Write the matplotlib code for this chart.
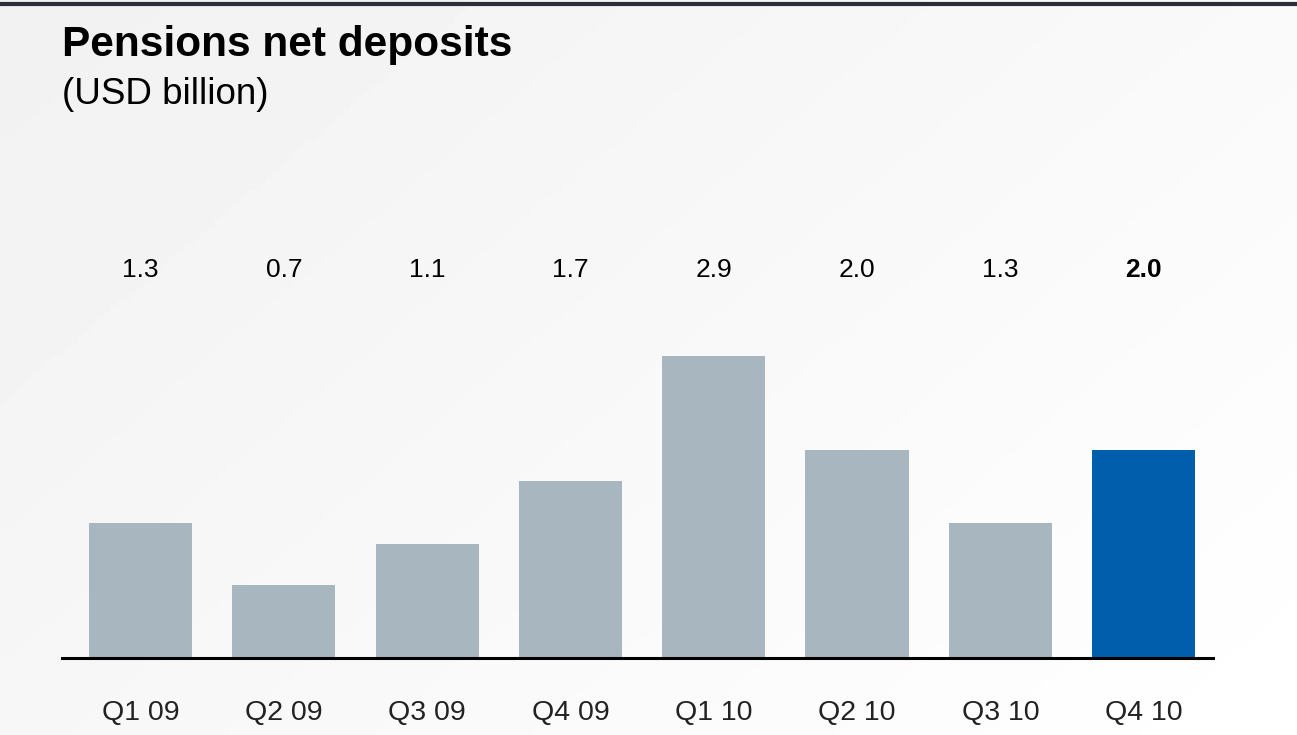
import matplotlib
matplotlib.use('Agg')
import matplotlib.pyplot as plt
import matplotlib.transforms as mtransforms
import numpy as np
from matplotlib import rcParams

rcParams.update({'font.family': ['Liberation Sans', 'DejaVu Sans']})

quarters = ['Q1 09', 'Q2 09', 'Q3 09', 'Q4 09', 'Q1 10', 'Q2 10', 'Q3 10', 'Q4 10']
deposits = [1.3, 0.7, 1.1, 1.7, 2.9, 2.0, 1.3, 2.0]
labels = ['1.3', '0.7', '1.1', '1.7', '2.9', '2.0', '1.3', '2.0']

grey = '#a8b6bf'
blue = '#005eac'

W, H = 1297, 735
fig = plt.figure(figsize=(W / 100, H / 100), dpi=100)

# soft diagonal background, light grey at top-left to white at bottom-right
bg = fig.add_axes([0, 0, 1, 1], zorder=-10)
gx, gy = np.meshgrid(np.linspace(0, 1, 200), np.linspace(0, 1, 120))
shade = 0.945 + 0.055 * np.clip(0.6 * gx + 0.4 * gy, 0, 1)
bg.imshow(shade, cmap='gray', vmin=0, vmax=1, aspect='auto', extent=[0, 1, 0, 1], origin='upper')
bg.set_axis_off()

# dark rule at the very top
fig.add_artist(plt.Line2D([0, 1], [1 - 3.5 / H, 1 - 3.5 / H], color='#2b2e38', lw=3, transform=fig.transFigure))

fig.text(62 / W, 1 - 56 / H, 'Pensions net deposits', fontsize=30.5, fontweight='bold', va='baseline', ha='left')
fig.text(62 / W, 1 - 104 / H, '(USD billion)', fontsize=26.5, va='baseline', ha='left')

ax = fig.add_axes([62 / W, 77 / H, (1213 - 62) / W, 508 / H])
ax.patch.set_alpha(0)
x = np.arange(len(quarters))
colors = [grey] * (len(quarters) - 1) + [blue]
ax.bar(x, deposits, width=0.72, color=colors, zorder=2)
ax.set_xlim(-0.548, 7.484)
ax.set_ylim(0, 4.885)

for s in ['top', 'right', 'left']:
    ax.spines[s].set_visible(False)
ax.spines['bottom'].set_linewidth(2.2)
ax.spines['bottom'].set_color('black')
ax.set_yticks([])
ax.set_xticks(x)
ax.set_xticklabels(quarters, fontsize=20.5, color='#222222')
ax.tick_params(axis='x', length=0, pad=30)

trans = mtransforms.blended_transform_factory(ax.transData, ax.transAxes)
for i, lab in enumerate(labels):
    ax.text(x[i], 0.764, lab, transform=trans, ha='center', va='center', fontsize=19,
            fontweight='bold' if i == len(labels) - 1 else 'normal')

fig.savefig('out.png', dpi=100)
